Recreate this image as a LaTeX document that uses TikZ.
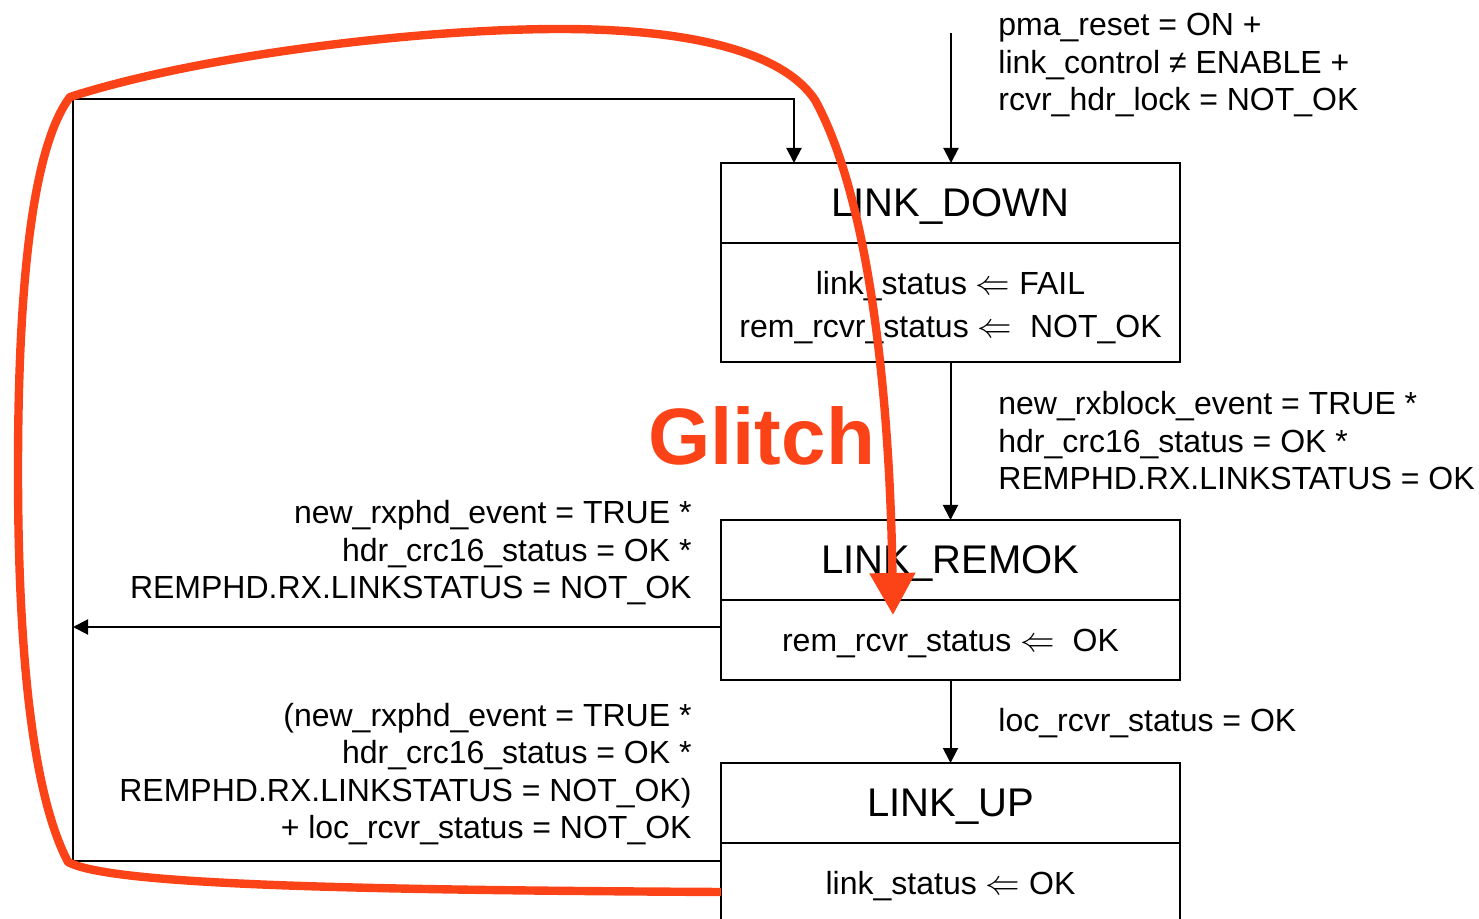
\documentclass[tikz,border=0pt]{standalone}
\usepackage{fontspec}
\setmainfont{Liberation Sans}
\usetikzlibrary{positioning,arrows.meta}
\definecolor{glitchrot}{RGB}{252,67,23}

\begin{document}
\begin{tikzpicture}[
x=0.5pt,
y=-0.5pt,
kopf/.style={draw, line width=1.4pt, minimum width=229.5pt, minimum height=40pt, inner sep=0pt, outer sep=0pt, text depth=0pt, font=\fontsize{20}{24}\selectfont},
rumpf/.style={draw, line width=1.4pt, minimum width=229.5pt, inner sep=0pt, outer sep=0pt, align=center, font=\fontsize{16}{21.5}\selectfont},
bedingung/.style={inner sep=0pt, font=\fontsize{16}{18.75}\selectfont},
pfeil/.style={line width=1pt, -{Triangle[length=7.5pt,width=7.5pt]}},
]

	\useasboundingbox (0,0) rectangle (1479,919);

	%%%%%%%%%%%%%%%%%%%%%%%%%%%%
	%Zustaende
	%%%%%%%%%%%%%%%%%%%%%%%%%%%%

	\node[kopf] (down) at (950.5,203) {LINK\_DOWN};
	\node[rumpf, minimum height=59.5pt, text height=38.5pt, below=0pt of down] (downb) {link\_status $\Leftarrow$ FAIL\\rem\_rcvr\_status $\Leftarrow$~~NOT\_OK};

	\node[kopf, below=79pt of downb] (remok) {LINK\_REMOK};
	\node[rumpf, minimum height=40pt, text height=11.5pt, text depth=0pt, below=0pt of remok] (remokb) {rem\_rcvr\_status $\Leftarrow$~~OK};

	\node[kopf, below=41.5pt of remokb] (up) {LINK\_UP};
	\node[rumpf, minimum height=40pt, text height=11.5pt, text depth=0pt, below=0pt of up] (upb) {link\_status $\Leftarrow$ OK};

	%%%%%%%%%%%%%%%%%%%%%%%%%%%%
	%Uebergaenge
	%%%%%%%%%%%%%%%%%%%%%%%%%%%%

	\coordinate (start) at (951,33);
	\coordinate (lo) at (73,99);
	\coordinate (lm) at (73,627);
	\coordinate (lu) at (73,861);

	\draw[pfeil] (start) -- (start |- down.north);
	\draw[pfeil] (downb) -- (remok);
	\draw[pfeil] (remokb) -- (up);
	\draw[pfeil] (remokb.west |- lm) -- (lm);
	\draw[pfeil] (upb.west |- lu) -- (lu) -- (lo) -| ([xshift=36.5pt]down.north west);

	\node[bedingung, anchor=west, align=left] (b1) at (998,65.5) {pma\_reset = ON +\\link\_control ≠ ENABLE +\\rcvr\_hdr\_lock = NOT\_OK};
	\node[bedingung, anchor=west, align=left] (b2) at (998,441) {new\_rxblock\_event = TRUE *\\hdr\_crc16\_status = OK *\\REMPHD.RX.LINKSTATUS = OK};
	\node[bedingung, anchor=east, align=right] (b3) at (692,553) {new\_rxphd\_event = TRUE *\\hdr\_crc16\_status = OK *\\REMPHD.RX.LINKSTATUS = NOT\_OK};
	\node[bedingung, anchor=west] (b4) at (998,723) {loc\_rcvr\_status = OK};
	\node[bedingung, anchor=east, align=right] (b5) at (692,774) {(new\_rxphd\_event = TRUE *\\hdr\_crc16\_status = OK *\\REMPHD.RX.LINKSTATUS = NOT\_OK)\\+ loc\_rcvr\_status = NOT\_OK};

	%%%%%%%%%%%%%%%%%%%%%%%%%%%%
	%Glitch
	%%%%%%%%%%%%%%%%%%%%%%%%%%%%

	\node[inner sep=0pt, text=glitchrot, font=\bfseries\fontsize{40}{48}\selectfont] (glitch) at (761.5,436) {Glitch};

	\coordinate (gs) at (721,892);
	\draw[glitchrot, line width=4.2pt, line join=round, -{Triangle[length=21pt,width=22pt]}] (gs)
		.. controls (350,890) and (110,885) .. (68,862)
		.. controls (25,780) and (18,600) .. (18,470)
		.. controls (18,300) and (30,150) .. (70,97)
		.. controls (200,55) and (420,29) .. (560,29)
		.. controls (700,29) and (785,55) .. (815,100)
		.. controls (870,200) and (890,400) .. (893,615);

\end{tikzpicture}
\end{document}
